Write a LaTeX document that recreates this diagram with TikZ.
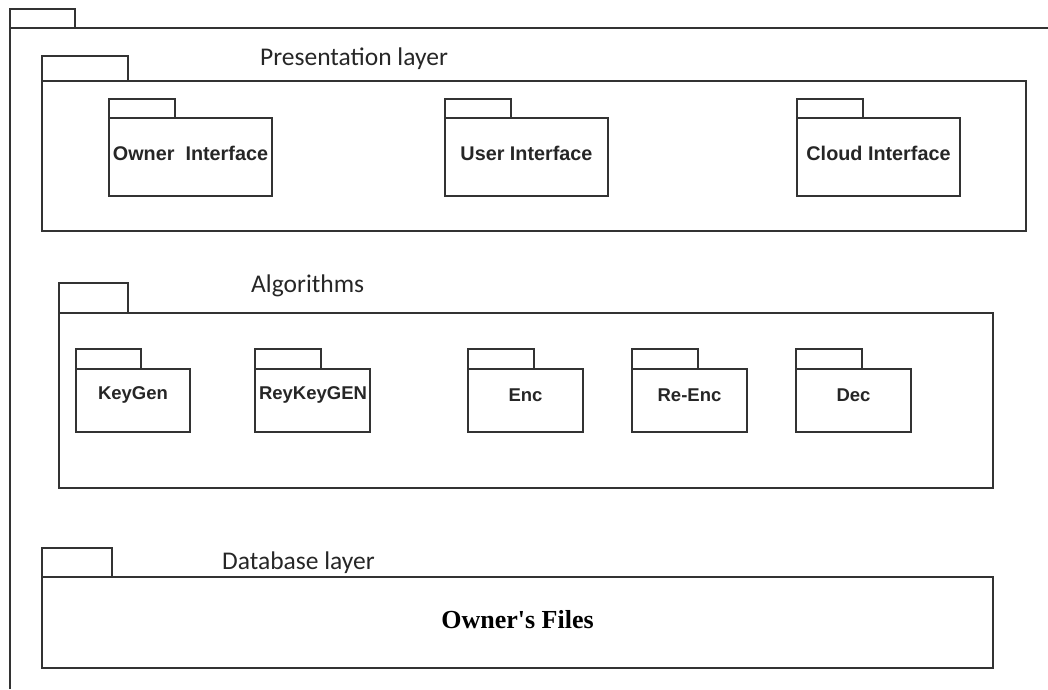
\documentclass[tikz,border=0pt]{standalone}
\usepackage{fontspec}
\setmainfont{Liberation Sans}
\newfontfamily\serifbold{Liberation Serif}
\newfontfamily\titlefont{Carlito}
\tikzset{
  frame/.style={draw=black!80, line width=1.8pt},
  pkgtitle/.style={font=\titlefont\fontsize{25.5}{29}\selectfont, text=black!85, inner sep=0pt, anchor=west},
  pkgname/.style={font=\bfseries\fontsize{19.8}{23}\selectfont, text=black!85, inner sep=0pt},
  algname/.style={pkgname, font=\bfseries\fontsize{18.5}{22}\selectfont},
}
% UML package: left, tab top, tab right, body top, right, bottom
\newcommand\umlpkg[6]{%
  \draw[frame] (#1,#4) -- (#1,#2) -- (#3,#2) -- (#3,#4);
  \draw[frame] (#1,#4) rectangle (#5,#6);
}
\begin{document}
\begin{tikzpicture}[x=1pt,y=-1pt]
\useasboundingbox (0,0) rectangle (1048,689);
% enclosing package (open on the right and bottom)
\draw[frame] (10,689) -- (10,28) -- (1048,28);
\draw[frame] (10,28) -- (10,9) -- (75,9) -- (75,28);

% presentation layer
\umlpkg{42}{56}{128}{81}{1026}{231}
\node[pkgtitle] (tpres) at (260,59) {Presentation layer};
\umlpkg{109}{99}{175}{118}{272}{196}
\node[pkgname] (owner) at (190.5,153) {Owner\ \ Interface};
\umlpkg{445}{99}{511}{118}{608}{196}
\node[pkgname] (user) at (526.5,153) {User Interface};
\umlpkg{797}{99}{863}{118}{960}{196}
\node[pkgname] (cloud) at (878.5,153) {Cloud Interface};

% algorithms
\umlpkg{59}{283}{128}{313}{993}{488}
\node[pkgtitle] (talg) at (251,286) {Algorithms};
\umlpkg{76}{349}{141}{369}{190}{432}
\node[algname] (keygen) at (133,395) {KeyGen};
\umlpkg{255}{349}{321}{369}{370}{432}
\node[algname] (rekey) at (313,395) {ReyKeyGEN};
\umlpkg{468}{349}{534}{369}{583}{432}
\node[algname] (enc) at (525.5,395) {Enc};
\umlpkg{632}{349}{698}{369}{747}{432}
\node[algname] (reenc) at (689.5,395) {Re-Enc};
\umlpkg{796}{349}{862}{369}{911}{432}
\node[algname] (dec) at (853.5,395) {Dec};

% database layer
\umlpkg{42}{548}{112}{577}{993}{668}
\node[pkgtitle] (tdb) at (222,563) {Database layer};
\node[font=\serifbold\bfseries\fontsize{26}{30}\selectfont, inner sep=0pt] (files) at (517.5,620) {Owner's Files};
\end{tikzpicture}
\end{document}
